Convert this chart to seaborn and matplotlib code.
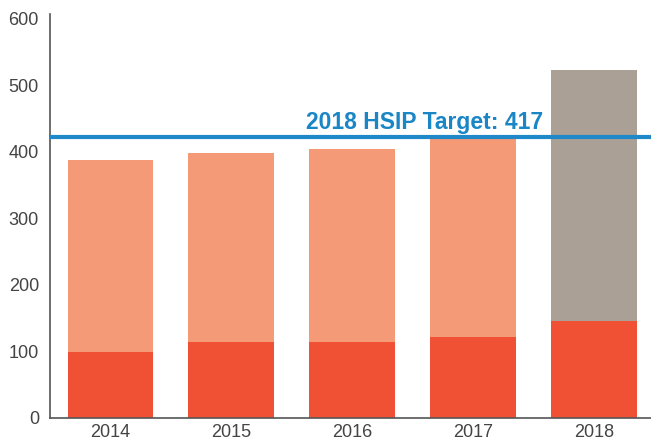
import numpy as np
import pandas as pd
import matplotlib
matplotlib.use("Agg")
import matplotlib.pyplot as plt
import seaborn as sns

years = ["2014", "2015", "2016", "2017", "2018"]
totals = [388, 398, 404, 419, 523]
base = [99, 114, 114, 121, 146]
target = 417
target_line = 422  # where the line sits in the picture

sns.set_style("white")
plt.rcParams['font.family'] = ['Liberation Sans', 'DejaVu Sans']

fig = plt.figure(figsize=(6.51, 4.43), dpi=100)
ax = fig.add_axes([50 / 651, 25 / 443, 601 / 651, 404 / 443])

df = pd.DataFrame({"year": years, "total": totals, "base": base})
top_colors = ["#F59A77", "#F59A77", "#F59A77", "#F59A77", "#ABA096"]

sns.barplot(data=df, x="year", y="total", hue="year", palette=top_colors,
            legend=False, width=0.71, saturation=1, linewidth=0, ax=ax)
sns.barplot(data=df, x="year", y="base", color="#F05033",
            width=0.71, saturation=1, linewidth=0, ax=ax)

ax.axhline(target_line, color="#1E88C9", lw=3, zorder=5)
ax.text(2.6, target_line + 5, f"2018 HSIP Target: {target}", color="#1A86C6",
        fontsize=16.5, fontweight="bold", ha="center", va="bottom")

ax.set_xlim(-0.5, 4.47)
ax.set_ylim(0, 607)
ax.set_yticks(range(0, 601, 100))
ax.set_xlabel("")
ax.set_ylabel("")
ax.tick_params(axis="both", labelsize=13, colors="#444444", length=0)
ax.tick_params(axis="y", pad=8)
ax.tick_params(axis="x", pad=4)
for s in ["top", "right"]:
    ax.spines[s].set_visible(False)
for s in ["left", "bottom"]:
    ax.spines[s].set_color("#555555")
    ax.spines[s].set_linewidth(1.2)

fig.savefig("out.png", dpi=100)
plt.close()
